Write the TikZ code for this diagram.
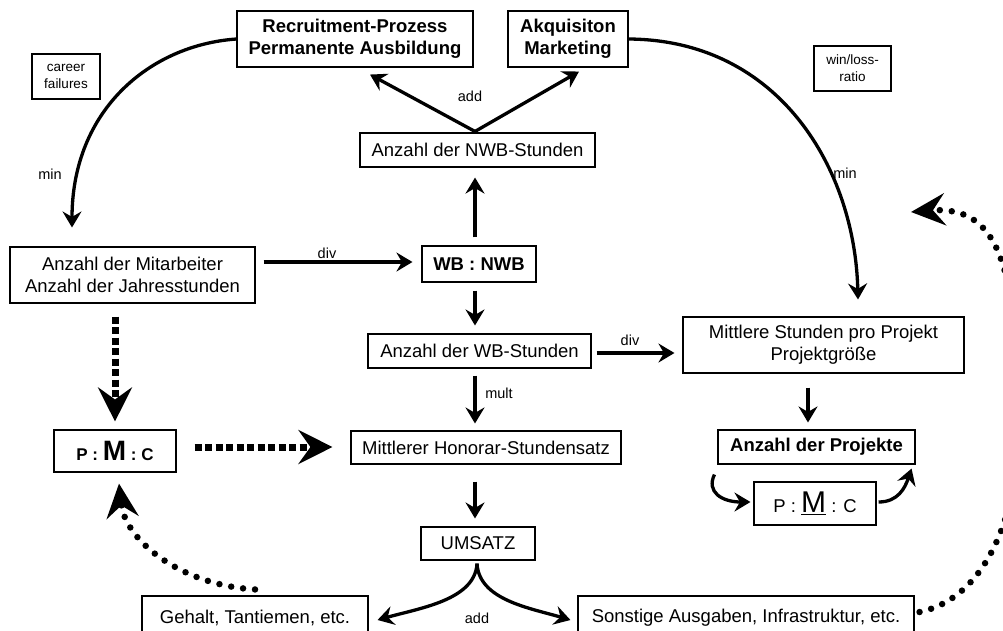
\documentclass[tikz,border=0pt]{standalone}
\usepackage{fontspec}
\setmainfont{Liberation Sans}
\usetikzlibrary{arrows.meta}
\newcommand\mainsz{\fontsize{18.5}{22}\selectfont}
\newcommand\lblsz{\fontsize{14.5}{17}\selectfont}
\newcommand\notesz{\fontsize{13.5}{17}\selectfont}
\begin{document}
\begin{tikzpicture}[x=1pt,y=-1pt,
  box/.style={draw, line width=1.1pt, fill=white, align=center, inner sep=0pt, font=\mainsz},
  notebox/.style={box, font=\notesz},
  conn/.style={line width=3.3pt, -{Stealth[length=16pt,width=19pt,inset=5.5pt]}},
  sqdash/.style={line width=7pt, dash pattern=on 7pt off 3.5pt, -{Stealth[length=34pt,width=34pt,inset=12pt]}},
  dots/.style={line width=6.5pt, line cap=round, dash pattern=on 0pt off 12pt, -{Stealth[length=34pt,width=32pt,inset=12pt]}},
  lbl/.style={font=\lblsz, inner sep=0pt}]
\useasboundingbox (0,0) rectangle (1003,630);
\clip (0,0) rectangle (1003,630);
\fill[white] (0,0) rectangle (1003,630);

% boxes
\node[box, minimum width=236, minimum height=56] (rec) at (355,39) {\bfseries Recruitment-Prozess\\\bfseries Permanente Ausbildung};
\node[box, minimum width=120, minimum height=56] (akq) at (568,39) {\bfseries Akquisiton\\\bfseries Marketing};
\node[notebox, minimum width=68, minimum height=45] (career) at (66,76.5) {career\\failures};
\node[notebox, minimum width=77, minimum height=45] (winloss) at (852.5,68.5) {win/loss-\\ratio};
\node[box, minimum width=235, minimum height=34] (nwb) at (477.5,150) {Anzahl der NWB-Stunden};
\node[box, minimum width=245, minimum height=56] (mit) at (132.5,275) {Anzahl der Mitarbeiter\\Anzahl der Jahresstunden};
\node[box, minimum width=114, minimum height=36] (wbnwb) at (479,264) {\bfseries WB : NWB};
\node[box, minimum width=223, minimum height=34] (wbs) at (479.5,351) {Anzahl der WB-Stunden};
\node[box, minimum width=281, minimum height=56] (msp) at (823.5,345) {Mittlere Stunden pro Projekt\\Projektgröße};
\node[box, minimum width=197, minimum height=34] (proj) at (816.5,447) {\bfseries Anzahl der Projekte};
\node[box, minimum width=122, minimum height=43] (pmcr) at (815,503.5) {P : \underline{\fontsize{30}{32}\selectfont M} : C};
\node[box, minimum width=270, minimum height=33] (hon) at (486,447.5) {Mittlerer Honorar-Stundensatz};
\node[box, minimum width=114, minimum height=33] (ums) at (478,543.5) {UMSATZ};
\node[box, minimum width=122, minimum height=42] (pmcl) at (115,451) {\bfseries\fontsize{17}{19}\selectfont P : {\fontsize{28}{30}\selectfont M} : C};
\node[box, minimum width=226, minimum height=44] (geh) at (255,618) {Gehalt, Tantiemen, etc.};
\node[box, minimum width=336, minimum height=44] (son) at (746,618) {Sonstige Ausgaben, Infrastruktur, etc.};
\coordinate (back) at (911,212);

% solid connectors
\draw[conn] ([shift={(-2.5,-1)}]nwb.north) -- ([shift={(15,7)}]rec.south);
\draw[conn] ([shift={(-2.5,-1)}]nwb.north) -- ([shift={(11,4)}]akq.south);
\node[lbl] (addtop) at (470,96) {add};
\draw[conn] ([shift={(-4,-8)}]wbnwb.north) -- ([shift={(-2.5,10)}]nwb.south);
\draw[conn] ([shift={(-4,8)}]wbnwb.south) -- ([shift={(-4.5,-8)}]wbs.north);
\draw[conn] ([shift={(-4.5,7)}]wbs.south) -- ([shift={(-11,-7)}]hon.north);
\node[lbl] (mult) at (499,393) {mult};
\draw[conn] ([shift={(-11,17)}]hon.south) -- ([shift={(-3,-8)}]ums.north);
\draw[conn] ([shift={(8,-13)}]mit.east) -- ([shift={(-9,-2)}]wbnwb.west);
\node[lbl] (divl) at (327,253) {div};
\draw[conn] ([shift={(5,2)}]wbs.east) -- ([shift={(-8,8)}]msp.west);
\node[lbl] (divr) at (630,340) {div};
\draw[conn] ([shift={(-15.5,14)}]msp.south) -- ([shift={(-8.5,-7)}]proj.north);
\draw[conn] ([shift={(-3,10)}]proj.south west) .. controls (706,492) and (722,502) .. ([shift={(-3,-1.5)}]pmcr.west);
\draw[conn] ([shift={(2,-1.5)}]pmcr.east) .. controls (898,502) and (905,488) .. ([shift={(-4,4)}]proj.south east);
\draw[conn] ([shift={(-1,3)}]ums.south) .. controls (475,600) and (420,608) .. ([shift={(9,2)}]geh.east);
\draw[conn] ([shift={(-1,3)}]ums.south) .. controls (479,600) and (530,608) .. ([shift={(-7,2)}]son.west);
\node[lbl] (addbot) at (477,618) {add};
\draw[conn] (rec.west) .. controls (150,45) and (72,110) .. ([shift={(-60.5,-19)}]mit.north);
\node[lbl] (minl) at (50,174) {min};
\draw[conn] (akq.east) .. controls (780,40) and (855,170) .. ([shift={(34.5,-17)}]msp.north);
\node[lbl] (minr) at (845,173) {min};

% dashed and dotted connectors
\draw[sqdash] ([shift={(-17.5,13)}]mit.south) -- ([shift={(0,-8)}]pmcl.north);
\draw[sqdash] ([shift={(18,-4)}]pmcl.east) -- ([shift={(-18,-0.5)}]hon.west);
\draw[dots] ([shift={(0,-6)}]geh.north) .. controls (180,585) and (125,540) .. ([shift={(4,11)}]pmcl.south);
\draw[dots] ([shift={(5,-6)}]son.east) .. controls (1000,595) and (1025,480) .. (1018,400)
  .. controls (1015,270) and (1000,205) .. (back);
\end{tikzpicture}
\end{document}
